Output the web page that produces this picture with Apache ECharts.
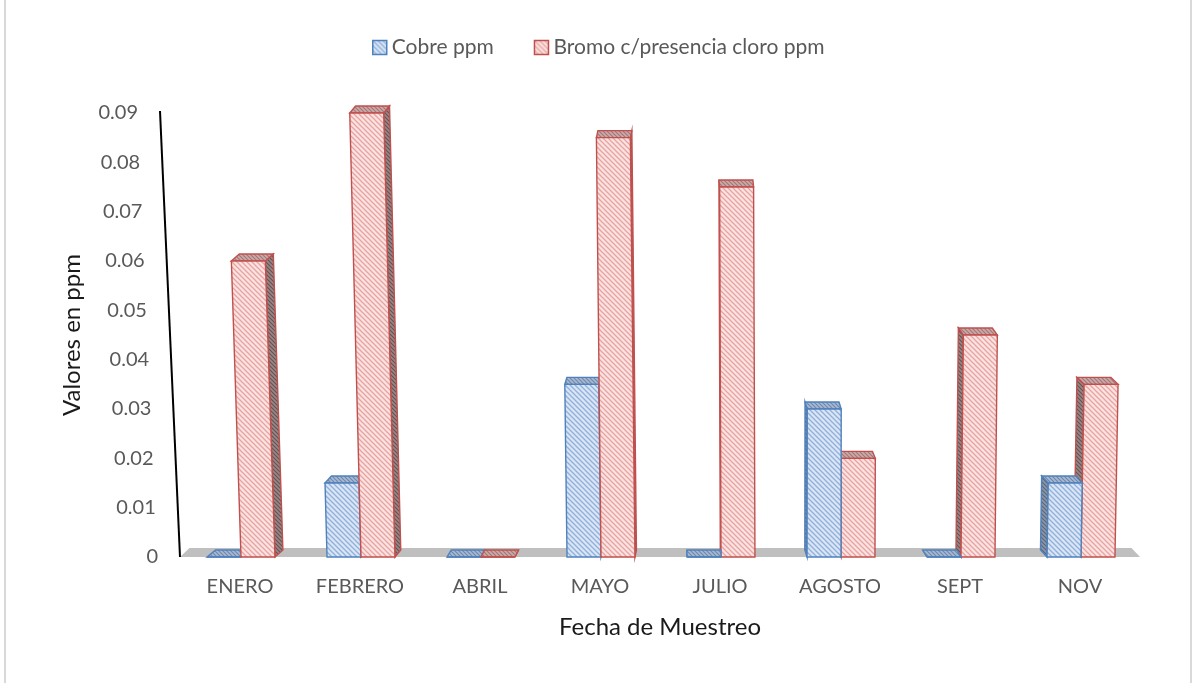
<!DOCTYPE html>
<html>
<head>
<meta charset="utf-8">
<title>Cobre y Bromo</title>
<script src="https://cdn.jsdelivr.net/npm/echarts@6/dist/echarts.min.js"></script>
<style>
  html, body { margin: 0; padding: 0; background: #ffffff; }
  #chart { width: 1198px; height: 683px; }
</style>
</head>
<body>
<div id="chart"></div>
<script>
// Monthly sampling results (ppm)
const categories = ['ENERO', 'FEBRERO', 'ABRIL', 'MAYO', 'JULIO', 'AGOSTO', 'SEPT', 'NOV'];
const cobre = [0, 0.015, 0, 0.035, 0, 0.03, 0, 0.015];
const bromo = [0.06, 0.09, 0, 0.085, 0.075, 0.02, 0.045, 0.035];
const yTicks = [0, 0.01, 0.02, 0.03, 0.04, 0.05, 0.06, 0.07, 0.08, 0.09];
const seriesNames = ['Cobre ppm', 'Bromo c/presencia cloro ppm'];

const FONT = 'Lato, "Open Sans", sans-serif';

// Diagonal hatch texture used as a repeating fill
function hatch(bg, line, size, width) {
  const c = document.createElement('canvas');
  c.width = size; c.height = size;
  const g = c.getContext('2d');
  g.fillStyle = bg;
  g.fillRect(0, 0, size, size);
  g.strokeStyle = line;
  g.lineWidth = width;
  for (let k = -size; k <= size; k += size) {
    g.beginPath();
    g.moveTo(k - 1, -1);
    g.lineTo(k + size + 1, size + 1);
    g.stroke();
  }
  return { image: c, repeat: 'repeat' };
}

const palette = {
  blue: {
    front: hatch('#dbe6f4', '#8fb0dc', 5, 1.3),
    top: hatch('#a9bbd3', '#7088ab', 4, 1.2),
    side: hatch('#8c97a8', '#5a677d', 4, 1.2),
    stroke: '#4f81bd'
  },
  red: {
    front: hatch('#fbe3e2', '#e7a3a1', 5, 1.3),
    top: hatch('#cfaaa9', '#a07878', 4, 1.2),
    side: hatch('#9a8787', '#685353', 4, 1.2),
    stroke: '#c0504d'
  }
};

// Perspective helpers (depth shift and vertical lean depend on screen x)
function depthShift(x) { return [(700 - x) * 0.018, -7]; }
function leanPerPx(x) { return (800 - x) * 6e-5; }

function box(x0, w, by, ty, pal) {
  const h = by - ty;
  const lean = leanPerPx(x0 + w / 2) * h;
  const d = depthShift(x0 + w / 2);
  const BL = [x0, by], BR = [x0 + w, by];
  const TR = [x0 + w - lean, ty], TL = [x0 - lean, ty];
  const add = (p) => [p[0] + d[0], p[1] + d[1]];
  const side = d[0] >= 0 ? [BR, TR, add(TR), add(BR)] : [BL, TL, add(TL), add(BL)];
  const strokeW = 1.4;
  return [
    { type: 'polygon', shape: { points: side }, style: { fill: pal.side, stroke: pal.stroke, lineWidth: strokeW } },
    { type: 'polygon', shape: { points: [TL, TR, add(TR), add(TL)] }, style: { fill: pal.top, stroke: pal.stroke, lineWidth: strokeW } },
    { type: 'polygon', shape: { points: [BL, BR, TR, TL] }, style: { fill: pal.front, stroke: pal.stroke, lineWidth: strokeW } }
  ];
}

function renderBars(params, api) {
  const i = api.value(0);
  const base = api.coord([i, 0]);
  const band = api.size([1, 0])[0];
  const w = band * 0.283;
  const cx = base[0] + 1;
  const yBlue = api.coord([i, api.value(1)])[1];
  const yRed = api.coord([i, api.value(2)])[1];
  const blueEls = box(cx - w, w, base[1], yBlue, palette.blue);
  const redEls = box(cx, w, base[1], yRed, palette.red);
  const leftFirst = depthShift(cx)[0] >= 0;
  return { type: 'group', children: leftFirst ? blueEls.concat(redEls) : redEls.concat(blueEls) };
}

function renderFloor(params, api) {
  const cs = params.coordSys;
  const by = cs.y + cs.height;
  const l = cs.x, r = cs.x + cs.width;
  return {
    type: 'polygon',
    shape: { points: [[l, by], [r, by], [r - 8.5, by - 9], [l + 9.5, by - 9]] },
    style: { fill: '#bfbfbf' }
  };
}

function renderWall(params, api) {
  const cs = params.coordSys;
  const by = cs.y + cs.height;
  const slope = 20 / cs.height;
  const v = api.value(0);
  const y = api.coord([0, v])[1];
  const wallX = cs.x - (by - y) * slope;
  const children = [{
    type: 'text',
    x: wallX - 22,
    y: y,
    style: { text: String(v), align: 'right', verticalAlign: 'middle', fill: '#595959', font: '20px ' + FONT }
  }];
  if (params.dataIndex === 0) {
    children.push({
      type: 'line',
      shape: { x1: cs.x, y1: by, x2: cs.x - 20, y2: cs.y - 2 },
      style: { stroke: '#000000', lineWidth: 2 }
    });
  }
  return { type: 'group', children: children };
}

const chart = echarts.init(document.getElementById('chart'), null, { renderer: 'canvas' });

chart.setOption({
  animation: false,
  backgroundColor: '#ffffff',
  textStyle: { fontFamily: FONT },
  graphic: [{
    type: 'rect',
    shape: { x: 5, y: -3, width: 1186, height: 700 },
    style: { fill: 'none', stroke: '#d9d9d9', lineWidth: 2 },
    silent: true
  }],
  legend: {
    left: 367,
    top: 32,
    itemWidth: 14,
    itemHeight: 14,
    itemGap: 40,
    icon: 'rect',
    textStyle: { fontSize: 21, color: '#595959', fontFamily: FONT },
    data: [
      { name: seriesNames[0], itemStyle: { color: palette.blue.front, borderColor: palette.blue.stroke, borderWidth: 1.5 } },
      { name: seriesNames[1], itemStyle: { color: palette.red.front, borderColor: palette.red.stroke, borderWidth: 1.5 } }
    ]
  },
  grid: { left: 180, right: 58, top: 113, bottom: 126 },
  xAxis: {
    type: 'category',
    data: categories,
    axisLine: { show: false },
    axisTick: { show: false },
    axisLabel: { fontSize: 20, color: '#595959', margin: 20, fontFamily: FONT },
    name: 'Fecha de Muestreo',
    nameLocation: 'middle',
    nameGap: 58,
    nameTextStyle: { fontSize: 24, color: '#1a1a1a', fontFamily: FONT }
  },
  yAxis: {
    type: 'value',
    min: 0,
    max: 0.09,
    interval: 0.01,
    axisLine: { show: false },
    axisTick: { show: false },
    axisLabel: { show: false },
    splitLine: { show: false },
    name: 'Valores en ppm',
    nameLocation: 'middle',
    nameGap: 96,
    nameRotate: 90,
    nameTextStyle: { fontSize: 24, color: '#1a1a1a', fontFamily: FONT }
  },
  series: [
    { name: seriesNames[0], type: 'bar', data: [], itemStyle: { color: palette.blue.front, borderColor: palette.blue.stroke } },
    { name: seriesNames[1], type: 'bar', data: [], itemStyle: { color: palette.red.front, borderColor: palette.red.stroke } },
    {
      type: 'custom',
      silent: true,
      z: 1,
      renderItem: renderFloor,
      data: [[0]]
    },
    {
      type: 'custom',
      silent: true,
      z: 3,
      renderItem: renderBars,
      encode: { x: 0, y: [1, 2] },
      data: categories.map((c, i) => [i, cobre[i], bromo[i]])
    },
    {
      type: 'custom',
      silent: true,
      z: 3,
      renderItem: renderWall,
      encode: { y: 0 },
      data: yTicks.map(v => [v])
    }
  ]
});
</script>
</body>
</html>
